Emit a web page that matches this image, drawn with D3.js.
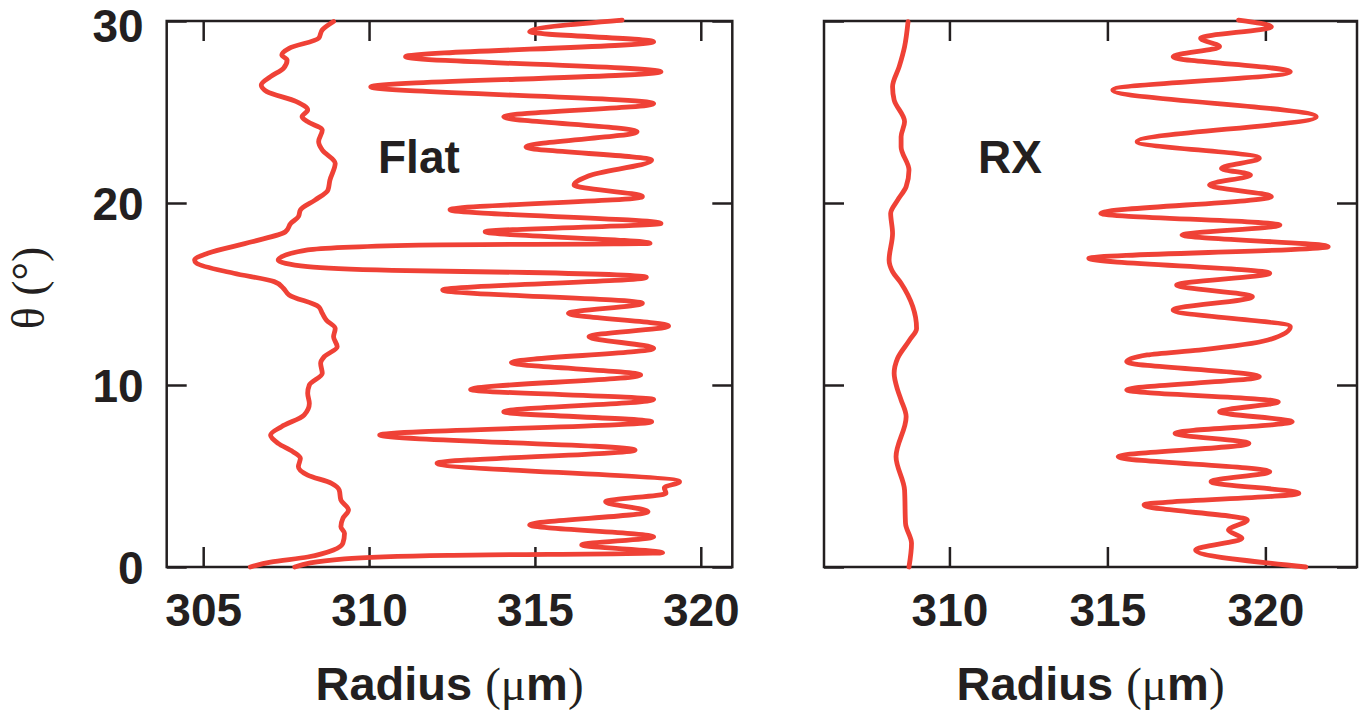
<!DOCTYPE html>
<html>
<head>
<meta charset="utf-8">
<script src="https://cdn.jsdelivr.net/npm/d3@7"></script>
<style>
  body { margin: 0; background: #fff; }
  svg { display: block; }
</style>
</head>
<body>
<svg id="chart" width="1360" height="713"></svg>
<script>
// tick values
var thetaTicks = [0, 10, 20, 30];
var flatRadiusTicks = [305, 310, 315, 320];
var rxRadiusTicks = [310, 315, 320];

// [radius (um), theta (deg)]
var flatInner = [
  [306.42, 0.0], [307.03, 0.27], [308.15, 0.55], [308.93, 0.93], [309.21, 1.30],
  [309.26, 1.85], [309.15, 2.21], [309.21, 2.67], [309.38, 3.13], [309.15, 3.68],
  [309.10, 4.23], [308.87, 4.60], [308.15, 5.05], [307.87, 5.51], [307.93, 5.97],
  [307.70, 6.34], [307.26, 6.79], [307.03, 7.25], [307.36, 7.71], [308.04, 8.35],
  [308.20, 8.99], [308.15, 9.54], [308.20, 10.00], [308.59, 10.64], [308.54, 11.19],
  [308.65, 11.56], [309.04, 12.10], [308.93, 12.65], [308.98, 13.11], [308.71, 13.57],
  [308.59, 13.94], [308.48, 14.30], [307.59, 14.95], [307.42, 15.31], [307.14, 15.68],
  [305.92, 16.14], [304.80, 16.69], [304.74, 16.87], [305.14, 17.24], [306.47, 17.87],
  [307.48, 18.42], [307.64, 18.88], [307.87, 19.25], [307.93, 19.62], [308.37, 20.16],
  [308.76, 20.71], [308.82, 21.26], [308.98, 22.18], [308.59, 22.91], [308.48, 23.37],
  [308.59, 24.01], [308.15, 24.47], [307.98, 24.74], [308.15, 25.11], [307.81, 25.57],
  [306.92, 26.12], [306.75, 26.48], [307.03, 26.94], [307.42, 27.40], [307.53, 27.86],
  [307.37, 28.13], [307.59, 28.50], [308.48, 29.05], [308.59, 29.51], [308.93, 29.97]
];

var flatOuter = [
  [307.76, 0.0], [309.26, 0.45], [312.39, 0.64], [318.85, 0.78], [316.41, 1.21],
  [318.58, 1.66], [314.84, 2.31], [318.41, 3.04], [317.13, 3.59], [318.95, 4.05],
  [318.90, 4.35], [319.36, 4.69], [312.05, 5.70], [318.02, 6.43], [310.32, 7.25],
  [318.52, 7.98], [314.06, 8.53], [318.58, 9.20], [313.06, 9.75], [318.19, 10.55],
  [314.29, 11.23], [318.58, 12.01], [316.63, 12.66], [319.03, 13.24], [316.01, 13.94],
  [318.24, 14.49], [312.22, 15.22], [318.36, 15.92], [314.80, 16.18], [310.70, 16.30],
  [308.15, 16.50], [307.26, 16.87], [308.15, 17.42], [311.50, 17.69], [318.47, 17.78],
  [313.50, 18.42], [318.80, 18.88], [312.44, 19.63], [318.24, 20.35], [316.18, 20.99],
  [316.63, 21.50], [318.52, 22.36], [314.73, 23.08], [318.08, 23.92], [314.06, 24.74],
  [318.58, 25.46], [310.05, 26.39], [318.80, 27.21], [311.10, 28.04], [318.58, 28.86],
  [314.84, 29.41], [317.63, 30.05]
];

var rxInner = [
  [308.72, 0.0], [308.80, 1.30], [308.61, 2.40], [308.58, 4.23], [308.31, 6.06],
  [308.63, 8.26], [308.47, 9.18], [308.36, 9.73], [308.25, 10.64], [308.36, 11.47],
  [308.74, 12.47], [308.96, 13.11], [308.47, 15.59], [308.20, 16.23], [308.09, 16.87],
  [308.20, 18.33], [308.14, 19.43], [308.36, 20.16], [308.63, 20.90], [308.72, 21.81],
  [308.47, 23.08], [308.47, 23.64], [308.58, 24.47], [308.25, 25.66], [308.20, 26.39],
  [308.41, 27.49], [308.58, 28.59], [308.69, 29.96]
];

var rxOuter = [
  [321.28, 0.0], [317.79, 0.93], [319.26, 1.58], [318.83, 2.03], [319.43, 2.58],
  [316.16, 3.41], [321.06, 4.05], [318.28, 4.69], [320.14, 5.24], [315.34, 6.06],
  [319.48, 6.79], [317.14, 7.35], [320.85, 7.98], [318.55, 8.53], [320.41, 9.08],
  [315.61, 9.73], [319.81, 10.46], [315.61, 11.28], [316.26, 11.65], [317.90, 11.92],
  [320.08, 12.47], [320.79, 13.20], [317.08, 14.12], [319.59, 14.85], [317.19, 15.49],
  [320.14, 16.14], [314.41, 16.96], [321.99, 17.60], [317.36, 18.24], [320.46, 18.79],
  [314.79, 19.43], [320.19, 20.35], [318.23, 20.99], [319.53, 21.54], [318.61, 21.90],
  [319.81, 22.46], [315.94, 23.37], [321.61, 24.74], [315.17, 26.21], [320.79, 27.21],
  [317.08, 28.04], [318.55, 28.59], [317.95, 29.05], [320.19, 29.69], [319.15, 30.05]
];

var ink = "#231f20";
var red = "#ef4136";
var sans = "'Liberation Sans', Arial, sans-serif";
var serif = "'Liberation Serif', 'Times New Roman', serif";

var svg = d3.select("#chart");

var plotTop = 21, plotBottom = 567;
var y = d3.scaleLinear().domain([0, 30]).range([plotBottom, plotTop]);

function styleAxis(g) {
  g.select(".domain").remove();
  g.attr("color", ink);
  g.selectAll(".tick line").attr("stroke-width", 2.5);
  g.selectAll(".tick text")
    .attr("font-family", sans)
    .attr("font-weight", "bold")
    .attr("font-size", 46)
    .attr("fill", ink);
}

function drawPanel(p) {
  var x = d3.scaleLinear().domain(p.domain).range([p.left, p.right]);
  var g = svg.append("g");

  // ticks, all pointing inward
  g.append("g")
    .attr("transform", "translate(0," + plotBottom + ")")
    .call(d3.axisBottom(x).tickValues(p.ticks).tickSizeInner(-20).tickSizeOuter(0)
      .tickPadding(26).tickFormat(d3.format("d")))
    .call(styleAxis);

  g.append("g")
    .attr("transform", "translate(0," + plotTop + ")")
    .call(d3.axisTop(x).tickValues(p.ticks).tickSizeInner(-20).tickSizeOuter(0).tickFormat(""))
    .call(styleAxis);

  var yAxis = g.append("g")
    .attr("transform", "translate(" + p.left + ",0)")
    .call(d3.axisLeft(y).tickValues(thetaTicks).tickSizeInner(-20).tickSizeOuter(0)
      .tickPadding(23).tickFormat(p.yLabels ? d3.format("d") : ""))
    .call(styleAxis);
  // top label sits right at the edge of the page; keep it inside
  yAxis.selectAll(".tick text").attr("dy", function(d) { return d === 30 ? "0.45em" : "0.36em"; });

  g.append("g")
    .attr("transform", "translate(" + p.right + ",0)")
    .call(d3.axisRight(y).tickValues(thetaTicks).tickSizeInner(-20).tickSizeOuter(0).tickFormat(""))
    .call(styleAxis);

  // frame
  g.append("rect")
    .attr("x", p.left).attr("y", plotTop)
    .attr("width", p.right - p.left).attr("height", plotBottom - plotTop)
    .attr("fill", "none").attr("stroke", ink).attr("stroke-width", 2.5);

  // radius vs angle curves
  var line = d3.line()
    .x(function(d) { return x(d[0]); })
    .y(function(d) { return y(d[1]); })
    .curve(d3.curveMonotoneY);

  p.series.forEach(function(s) {
    g.append("path")
      .datum(s)
      .attr("d", line)
      .attr("fill", "none")
      .attr("stroke", red)
      .attr("stroke-width", 4.8)
      .attr("stroke-linejoin", "round")
      .attr("stroke-linecap", "round");
  });

  // panel name
  g.append("text")
    .attr("x", p.nameX).attr("y", 173)
    .attr("font-family", sans).attr("font-weight", "bold").attr("font-size", 46)
    .attr("fill", ink)
    .text(p.name);

  // x axis title
  var t = g.append("text")
    .attr("x", (p.left + p.right) / 2).attr("y", 700)
    .attr("text-anchor", "middle")
    .attr("font-family", sans).attr("font-size", 47).attr("fill", ink);
  t.append("tspan").attr("font-weight", "bold").text("Radius ");
  t.append("tspan").attr("font-family", serif).text("(\u03bc");
  t.append("tspan").attr("font-weight", "bold").text("m");
  t.append("tspan").attr("font-family", serif).text(")");
}

drawPanel({
  left: 166.7, right: 732.3, domain: [303.9, 320.95],
  ticks: flatRadiusTicks, yLabels: true,
  series: [flatInner, flatOuter], name: "Flat", nameX: 378
});

drawPanel({
  left: 824, right: 1357, domain: [306.03, 322.9],
  ticks: rxRadiusTicks, yLabels: false,
  series: [rxInner, rxOuter], name: "RX", nameX: 978
});

// y axis title
svg.append("text")
  .attr("transform", "translate(44,288) rotate(-90)")
  .attr("text-anchor", "middle")
  .attr("font-family", serif).attr("font-size", 46).attr("fill", ink)
  .text("\u03b8 (\u00b0)");
</script>
</body>
</html>
